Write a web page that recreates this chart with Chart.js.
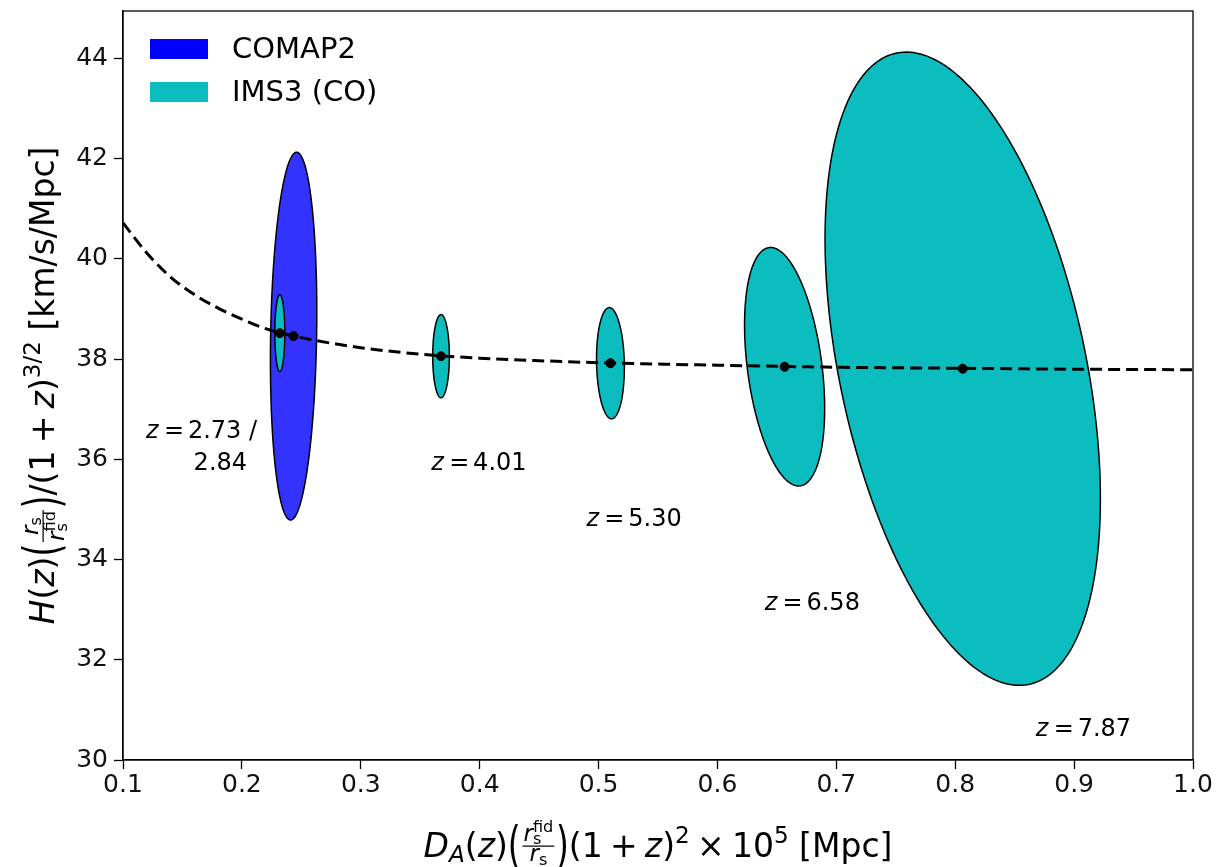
<!DOCTYPE html>
<html>
<head>
<meta charset="utf-8">
<script src="https://cdn.jsdelivr.net/npm/chart.js@4.4.1/dist/chart.umd.min.js"></script>
<style>
    html, body { margin: 0; padding: 0; background: #fff; }
    #wrap { width: 1223px; height: 867px; }
</style>
</head>
<body>
<div id="wrap"><canvas id="GraficoBAO" width="1223" height="867"></canvas></div>
<script>
// curva fiducial (tracejada)
var curvaX = [0.1, 0.12, 0.14, 0.16, 0.18, 0.2, 0.22, 0.25, 0.3, 0.35, 0.4, 0.45, 0.5, 0.6, 0.7, 0.8, 0.9, 1.0];
var curvaY = [40.72, 40.12, 39.64, 39.29, 39.02, 38.80, 38.61, 38.43, 38.23, 38.10, 38.02, 37.97, 37.93, 37.88, 37.84, 37.82, 37.80, 37.79];

// centros e elipses de erro
var levantamento = ['COMAP2', 'IMS3 (CO)', 'IMS3 (CO)', 'IMS3 (CO)', 'IMS3 (CO)', 'IMS3 (CO)'];
var centroX = [0.2435, 0.2319, 0.3675, 0.510, 0.6565, 0.8063];
var centroY = [38.46, 38.52, 38.06, 37.92, 37.85, 37.81];
var erroX = [0.0195, 0.0042, 0.0070, 0.0117, 0.0337, 0.1158];
var erroY = [3.67, 0.765, 0.83, 1.11, 2.38, 6.32];
var correl = [0.13, 0.0, 0.0, -0.08, -0.35, -0.41];

// rotulos de redshift
var rotulos = ['z = 2.73 /', '2.84', 'z = 4.01', 'z = 5.30', 'z = 6.58', 'z = 7.87'];
var rotuloX = [0.1194, 0.1594, 0.3593, 0.4898, 0.6397, 0.8678];
var rotuloY = [36.43, 35.79, 35.79, 34.67, 32.99, 30.48];

var ticksX = [0.1, 0.2, 0.3, 0.4, 0.5, 0.6, 0.7, 0.8, 0.9, 1.0];
var ticksY = [30, 32, 34, 36, 38, 40, 42, 44];

var legendaNomes = ['COMAP2', 'IMS3 (CO)'];
var cores = { 'COMAP2': 'rgba(0,0,255,0.8)', 'IMS3 (CO)': '#0cbdc0' };
var coresLegenda = ['#0000ff', '#0cbdc0'];

function fonte(px, it) {
    return (it ? 'italic ' : '') + px + 'px "DejaVu Sans"';
}

function largura(ctx, it, F) {
    if (it.g !== undefined) return it.g * F;
    if (it.big) { ctx.font = fonte(F, false); return ctx.measureText(it.big).width; }
    if (it.frac) return Math.max(medir(ctx, it.frac.num, F), medir(ctx, it.frac.den, F)) + 0.16 * F;
    if (it.noAdv) return 0;
    ctx.font = fonte(F * (it.s || 1), it.it);
    return ctx.measureText(it.t).width;
}

function medir(ctx, itens, F) {
    var w = 0;
    itens.forEach(function (it) { w += largura(ctx, it, F); });
    return w;
}

function temSup(itens) {
    return itens.some(function (it) { return (it.dy || 0) > 0; });
}

function desenhar(ctx, itens, x, y, F) {
    itens.forEach(function (it) {
        var w = largura(ctx, it, F);
        if (it.big) {
            var eixo = 0.315 * F;
            ctx.save();
            ctx.font = fonte(F, false);
            ctx.translate(x, y - eixo);
            ctx.scale(1, 1.5);
            ctx.fillText(it.big, 0, eixo);
            ctx.restore();
        } else if (it.frac) {
            var barra = y - 0.33 * F;
            var wn = medir(ctx, it.frac.num, F), wd = medir(ctx, it.frac.den, F);
            desenhar(ctx, it.frac.num, x + (w - wn) / 2, barra - 0.16 * F, F);
            desenhar(ctx, it.frac.den, x + (w - wd) / 2, barra + (temSup(it.frac.den) ? 0.62 : 0.46) * F, F);
            ctx.fillRect(x + 0.05 * F, barra - 0.6, w - 0.1 * F, 1.2);
        } else if (it.g === undefined) {
            ctx.font = fonte(F * (it.s || 1), it.it);
            ctx.fillText(it.t, x, y - (it.dy || 0) * F);
        }
        x += w;
    });
}

var rs = [{ t: 'r', it: 1, s: 0.7 }, { t: 's', s: 0.49, dy: -0.1 }];
var rsFid = [{ t: 'r', it: 1, s: 0.7 }, { t: 's', s: 0.49, dy: -0.1, noAdv: 1 }, { t: 'fid', s: 0.49, dy: 0.27 }];

var tituloX = [
    { t: 'D', it: 1 }, { t: 'A', it: 1, s: 0.7, dy: -0.15 }, { t: '(' }, { t: 'z', it: 1 }, { t: ')' },
    { big: '(' }, { frac: { num: rsFid, den: rs } }, { big: ')' },
    { t: '(1' }, { g: 0.22 }, { t: '+' }, { g: 0.22 }, { t: 'z', it: 1 }, { t: ')' }, { t: '2', s: 0.7, dy: 0.42 },
    { g: 0.22 }, { t: '\u00d7' }, { g: 0.22 }, { t: '10' }, { t: '5', s: 0.7, dy: 0.42 }, { t: ' [Mpc]' }
];
var tituloY = [
    { t: 'H', it: 1 }, { t: '(' }, { t: 'z', it: 1 }, { t: ')' },
    { big: '(' }, { frac: { num: rs, den: rsFid } }, { big: ')' },
    { t: '/(1' }, { g: 0.22 }, { t: '+' }, { g: 0.22 }, { t: 'z', it: 1 }, { t: ')' }, { t: '3/2', s: 0.7, dy: 0.42 },
    { t: ' [km/s/Mpc]' }
];

function itensRotulo(txt) {
    if (txt.indexOf('z = ') === 0) {
        return [{ t: 'z', it: 1 }, { g: 0.22 }, { t: '=' }, { g: 0.16 }, { t: txt.substring(4) }];
    }
    return [{ t: txt }];
}

var pluginElipses = {
    id: 'elipses',
    beforeDatasetsDraw: function (chart) {
        var c = chart.ctx, sx = chart.scales.x, sy = chart.scales.y, a = chart.chartArea;
        c.save();
        c.beginPath();
        c.rect(a.left, a.top, a.right - a.left, a.bottom - a.top);
        c.clip();
        for (var i = 0; i < centroX.length; i++) {
            var r = correl[i], q = Math.sqrt(1 - r * r);
            c.beginPath();
            for (var k = 0; k <= 240; k++) {
                var t = 2 * Math.PI * k / 240;
                var px = sx.getPixelForValue(centroX[i] + erroX[i] * Math.cos(t));
                var py = sy.getPixelForValue(centroY[i] + erroY[i] * (r * Math.cos(t) + q * Math.sin(t)));
                if (k === 0) c.moveTo(px, py); else c.lineTo(px, py);
            }
            c.closePath();
            c.fillStyle = cores[levantamento[i]];
            c.fill();
            c.lineWidth = 1.5;
            c.strokeStyle = '#000';
            c.stroke();
        }
        c.restore();
    },
    afterDraw: function (chart) {
        var c = chart.ctx, sx = chart.scales.x, sy = chart.scales.y, a = chart.chartArea;
        c.save();
        // moldura
        c.strokeStyle = '#000';
        c.lineWidth = 1.3;
        c.strokeRect(a.left, a.top, a.right - a.left, a.bottom - a.top);
        c.fillStyle = '#000';
        c.textBaseline = 'alphabetic';

        // rotulos
        for (var i = 0; i < rotulos.length; i++) {
            desenhar(c, itensRotulo(rotulos[i]), sx.getPixelForValue(rotuloX[i]), sy.getPixelForValue(rotuloY[i]), 24);
        }

        // legenda
        for (var j = 0; j < legendaNomes.length; j++) {
            var ly = a.top + 28 + j * 43;
            c.fillStyle = coresLegenda[j];
            c.fillRect(a.left + 27, ly, 58, 20);
            c.fillStyle = '#000';
            c.font = fonte(29, false);
            c.textBaseline = 'middle';
            c.fillText(legendaNomes[j], a.left + 109, ly + 11);
        }
        c.textBaseline = 'alphabetic';

        // titulos dos eixos
        var F = 33;
        var wx = medir(c, tituloX, F);
        desenhar(c, tituloX, (a.left + a.right) / 2 - wx / 2, 857, F);

        var wy = medir(c, tituloY, F);
        c.translate(54, (a.top + a.bottom) / 2);
        c.rotate(-Math.PI / 2);
        desenhar(c, tituloY, -wy / 2, 0, F);
        c.restore();
    }
};

var ctx = document.getElementById('GraficoBAO').getContext('2d');
var grafico = new Chart(ctx, {
    type: 'scatter',
    data: {
        datasets: [{
            type: 'line',
            label: 'fiducial',
            data: curvaX.map(function (x, i) { return { x: x, y: curvaY[i] }; }),
            borderColor: '#000',
            borderWidth: 3,
            borderDash: [12, 6],
            pointRadius: 0,
            fill: false,
            cubicInterpolationMode: 'monotone',
            order: 1
        }, {
            label: 'centros',
            data: centroX.map(function (x, i) { return { x: x, y: centroY[i] }; }),
            backgroundColor: '#000',
            borderColor: '#000',
            pointRadius: 4.5,
            order: 0
        }]
    },
    options: {
        responsive: false,
        animation: false,
        devicePixelRatio: 1,
        layout: { padding: { left: 0, top: 11, right: 30, bottom: 0 } },
        plugins: {
            legend: { display: false },
            tooltip: { enabled: false }
        },
        scales: {
            x: {
                type: 'linear',
                min: 0.1,
                max: 1.0,
                afterBuildTicks: function (s) { s.ticks = ticksX.map(function (v) { return { value: v }; }); },
                afterFit: function (s) { s.height = 107; s.paddingLeft = 0; s.paddingRight = 0; },
                ticks: {
                    color: '#111',
                    font: { family: 'DejaVu Sans', size: 25 },
                    padding: 1,
                    maxRotation: 0,
                    callback: function (v) { return Number(v).toFixed(1); }
                },
                grid: { drawOnChartArea: false, drawTicks: true, tickLength: 9, tickColor: '#000', tickWidth: 1.3 },
                border: { display: true, color: '#000', width: 1.3 }
            },
            y: {
                type: 'linear',
                min: 30,
                max: 44.95,
                afterBuildTicks: function (s) { s.ticks = ticksY.map(function (v) { return { value: v }; }); },
                afterFit: function (s) { s.width = 123; s.paddingTop = 0; s.paddingBottom = 0; },
                ticks: {
                    color: '#111',
                    font: { family: 'DejaVu Sans', size: 25 },
                    padding: 6,
                    callback: function (v) { return String(v); }
                },
                grid: { drawOnChartArea: false, drawTicks: true, tickLength: 9, tickColor: '#000', tickWidth: 1.3 },
                border: { display: true, color: '#000', width: 1.3 }
            }
        }
    },
    plugins: [pluginElipses]
});
</script>
</body>
</html>
